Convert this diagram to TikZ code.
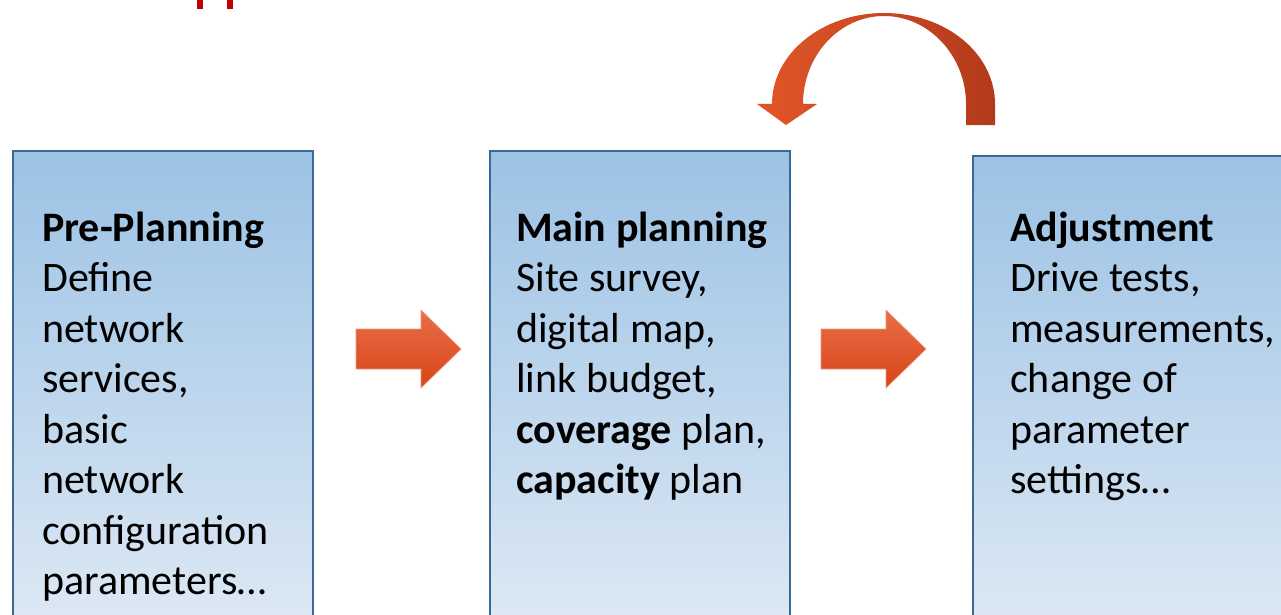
\documentclass[tikz,border=0pt]{standalone}
\usepackage{fontspec}
\setmainfont{Carlito}
\definecolor{boxtop}{RGB}{156,194,229}
\definecolor{boxbot}{RGB}{222,233,244}
\definecolor{boxline}{RGB}{60,105,145}
\definecolor{arrtop}{RGB}{232,110,72}
\definecolor{arrbot}{RGB}{217,68,24}
\definecolor{curvL}{RGB}{226,86,40}
\definecolor{curvR}{RGB}{178,58,28}
\definecolor{titlered}{RGB}{192,0,0}
\tikzset{
  stagebox/.style={draw=boxline, line width=1.6pt, top color=boxtop, bottom color=boxbot,
    minimum width=300pt, minimum height=480pt, anchor=north west, inner sep=0pt},
  stagetext/.style={anchor=base west, align=left, inner sep=0pt,
    font=\fontsize{42}{50.5}\selectfont},
  bigarrow/.style={top color=arrtop, bottom color=arrbot, draw=arrtop!70!white, line width=0.6pt},
}
\begin{document}
\begin{tikzpicture}[x=1pt,y=-1pt]
\useasboundingbox (0,0) rectangle (1281,615);
\clip (0,0) rectangle (1281,615);
% cut-off title fragments
\fill[titlered] (197,-2) rectangle (203,9);
\fill[titlered] (227,-2) rectangle (233,9);
% boxes
\node[stagebox] (pre) at (12,150) {};
\node[stagebox] (main) at (489,150) {};
\node[stagebox, minimum width=330pt] (adj) at (972,155) {};
% texts (anchor = baseline of last line)
\node[stagetext] (pretext) at (42,594.5) {\textbf{Pre-Planning}\\Define\\network\\services,\\basic\\network\\configuration\\parameters…};
\node[stagetext] (maintext) at (516,493.5) {\textbf{Main planning}\\Site survey,\\digital map,\\link budget,\\\textbf{coverage} plan,\\\textbf{capacity} plan};
\node[stagetext] (adjtext) at (1010,493.5) {\textbf{Adjustment}\\Drive tests,\\measurements,\\change of\\parameter\\settings…};
% straight arrows
\path[bigarrow] (356,329) -- (421,329) -- (421,310) -- (461,349) -- (421,388) -- (421,369) -- (356,369) -- cycle;
\path[bigarrow] (821,329) -- (886,329) -- (886,310) -- (926,349) -- (886,388) -- (886,369) -- (821,369) -- cycle;
% curved arrow
\path[left color=curvL, right color=curvR]
  (772,104) .. controls (772,53.7) and (822,13) .. (884,13)
  .. controls (946,13) and (995,53.7) .. (995,104)
  -- (995,125) -- (966,125) -- (966,104)
  .. controls (966,56) and (929,16) .. (884,16)
  .. controls (839,16) and (803,56) .. (803,104)
  -- (817,104) -- (786,125) -- (757,104) -- cycle;
\end{tikzpicture}
\end{document}
